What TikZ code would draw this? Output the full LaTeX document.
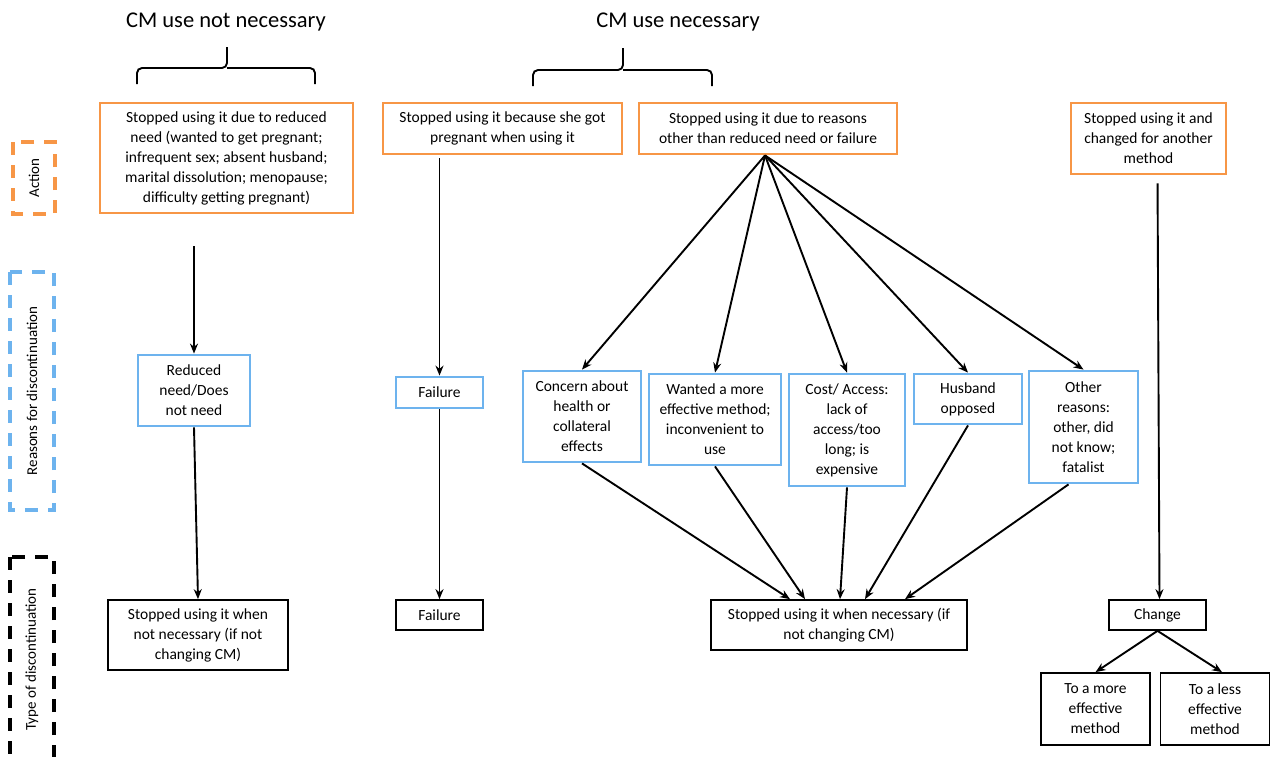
\documentclass[tikz,border=0pt]{standalone}
\usepackage{fontspec}
\setmainfont{Carlito}
\usetikzlibrary{arrows.meta}
\definecolor{actorange}{HTML}{F79646}
\definecolor{reasonblue}{HTML}{6DB3EE}
\newcommand{\boxfont}{\fontsize{15.5}{20}\selectfont}
\tikzset{
	box/.style={align=center, font=\boxfont, inner sep=2pt},
	actbox/.style={box, draw=actorange, line width=2.8pt},
	reasonbox/.style={box, draw=reasonblue, line width=2.8pt},
	typebox/.style={box, draw=black, line width=1.7pt},
	sidebox/.style={draw=#1, line width=3.5pt, dash pattern=on 13pt off 10pt, rotate=90, align=center, font=\fontsize{15}{18}\selectfont},
	hdr/.style={font=\fontsize{22.5}{27}\selectfont},
	arr/.style={-{Stealth[length=10pt,width=8pt]}, line width=1.9pt},
	brace/.style={line width=1.9pt, rounded corners=5pt}
}
\begin{document}
\begin{tikzpicture}[x=1pt, y=-1pt]
	\useasboundingbox (0,0) rectangle (1271,756);
	\node[hdr] (hdrno) at (226,22) {CM use not necessary};
	\node[hdr] (hdryes) at (678,22) {CM use necessary};
	\draw[brace] (137,84) |- (227,68) -- (227,47);
	\draw[brace] (315,84) |- (227,68);
	\draw[brace] (533,86) |- (623,70) -- (623,48);
	\draw[brace] (712,86) |- (623,70);

	\node[sidebox=actorange, minimum width=72, minimum height=42] (sact) at (34,178) {Action};
	\node[sidebox=reasonblue, minimum width=238, minimum height=44] (sreason) at (32,391) {Reasons for discontinuation};
	\node[sidebox=black, minimum width=205, minimum height=44] (stype) at (32,659.5) {Type of discontinuation};

	\node[actbox, minimum width=253, minimum height=110] (a1) at (226.5,158) {Stopped using it due to reduced\\ need (wanted to get pregnant;\\ infrequent sex; absent husband;\\ marital dissolution; menopause;\\ difficulty getting pregnant)};
	\node[actbox, minimum width=239, minimum height=51] (a2) at (502.5,128.5) {Stopped using it because she got\\ pregnant when using it};
	\node[actbox, minimum width=258, minimum height=51] (a3) at (768,128.5) {Stopped using it due to reasons\\ other than reduced need or failure};
	\node[actbox, minimum width=155, minimum height=71] (a4) at (1148.5,138.5) {Stopped using it and\\ changed for another\\ method};

	\node[reasonbox, minimum width=112, minimum height=71] (b1) at (194,390.5) {Reduced\\ need/Does\\ not need};
	\node[reasonbox, minimum width=87, minimum height=31] (b2) at (439.5,392.5) {Failure};
	\node[reasonbox, minimum width=118, minimum height=91] (b3) at (582,416.5) {Concern about\\ health or\\ collateral\\ effects};
	\node[reasonbox, minimum width=132, minimum height=91] (b4) at (715,419.5) {Wanted a more\\ effective method;\\ inconvenient to\\ use};
	\node[reasonbox, minimum width=116, minimum height=112] (b5) at (847,430) {Cost/ Access:\\ lack of\\ access/too\\ long; is\\ expensive};
	\node[reasonbox, minimum width=108, minimum height=50] (b6) at (968,399) {Husband\\ opposed};
	\node[reasonbox, minimum width=109, minimum height=112] (b7) at (1083.5,427) {Other\\ reasons:\\ other, did\\ not know;\\ fatalist};

	\node[typebox, minimum width=180, minimum height=70] (c1) at (198,635) {Stopped using it when\\ not necessary (if not\\ changing CM)};
	\node[typebox, minimum width=87, minimum height=30] (c2) at (439.5,615) {Failure};
	\node[typebox, minimum width=256, minimum height=50] (c3) at (839,625) {Stopped using it when necessary (if\\ not changing CM)};
	\node[typebox, minimum width=97, minimum height=30] (c4) at (1157.5,615) {Change};
	\node[typebox, minimum width=109, minimum height=72] (c5) at (1095.5,709) {To a more\\ effective\\ method};
	\node[typebox, minimum width=109, minimum height=72] (c6) at (1215,709) {To a less\\ effective\\ method};

	\draw[arr, shorten <=32pt] (a1.south -| b1) -- (b1.north);
	\draw[arr, shorten <=3pt] (a2.south -| b2) -- (b2.north);
	\draw[arr, shorten <=8pt] ([xshift=9pt]a4.south) -- ([xshift=2pt]c4.north);
	\draw[arr] (b1.south) -- (c1.north);
	\draw[arr] (b2.south) -- (c2.north);
	\foreach \b in {b3,b4,b5,b6,b7}
		\draw[arr] ([xshift=-3pt]a3.south) -- (\b.north);
	\draw[arr] (b3.south) -- ([xshift=-49pt]c3.north);
	\draw[arr] (b4.south) -- ([xshift=-34pt]c3.north);
	\draw[arr] (b5.south) -- ([xshift=1pt]c3.north);
	\draw[arr] (b6.south) -- ([xshift=26pt]c3.north);
	\draw[arr] ([xshift=-15pt]b7.south) -- ([xshift=66pt]c3.north);
	\draw[arr] (c4.south) -- (c5.north);
	\draw[arr] (c4.south) -- ([xshift=7pt]c6.north);
\end{tikzpicture}
\end{document}
